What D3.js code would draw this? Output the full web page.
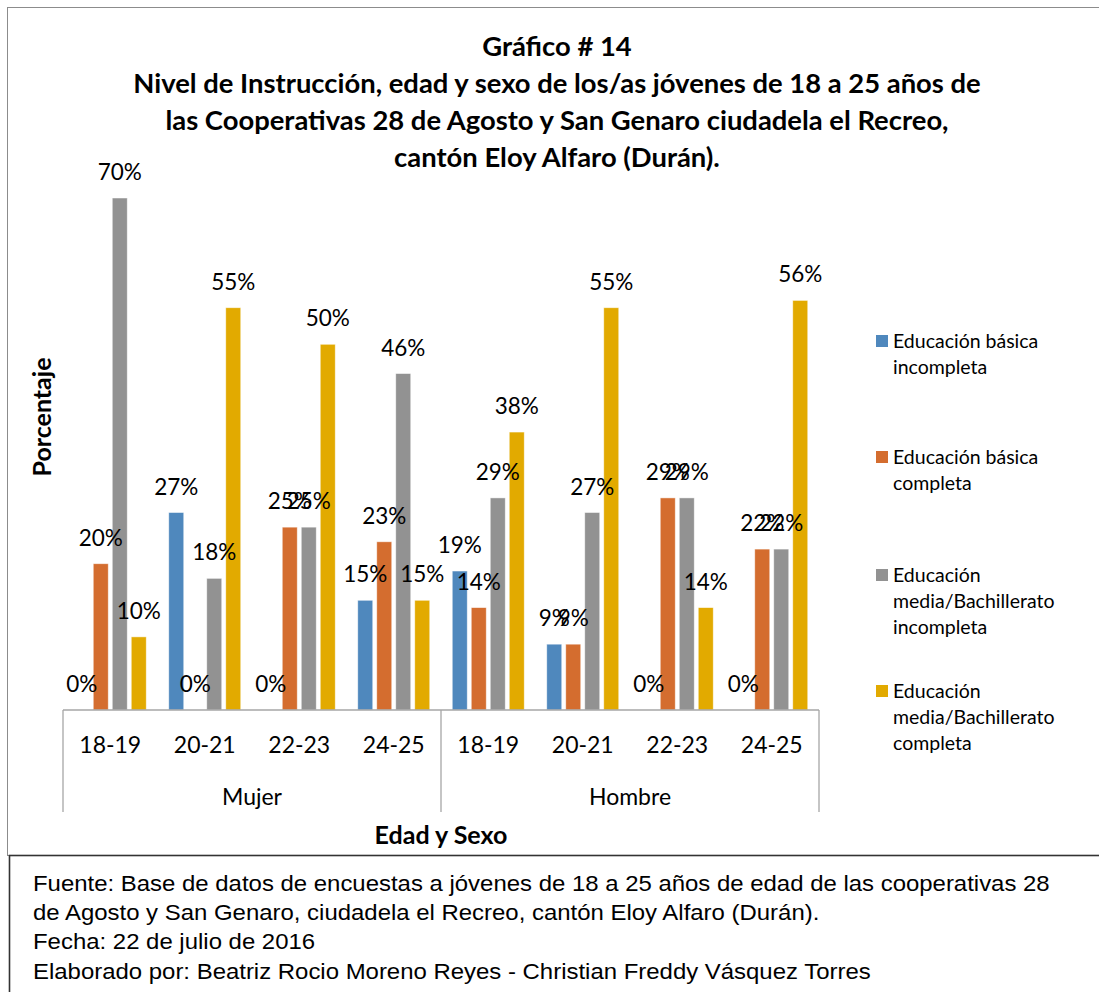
<!DOCTYPE html>
<html><head><meta charset="utf-8">
<script src="https://cdn.jsdelivr.net/npm/d3@7"></script>
<style>body{margin:0;background:#fff}svg{display:block}</style>
</head><body>
<svg id="c" width="1099" height="992"></svg>
<script>
const categories = ["18-19","20-21","22-23","24-25","18-19","20-21","22-23","24-25"];
const groups = ["Mujer","Hombre"];
const seriesNames = ["Educación básica incompleta","Educación básica completa","Educación media/Bachillerato incompleta","Educación media/Bachillerato completa"];
const legendLines = [["Educación básica","incompleta"],["Educación básica","completa"],["Educación","media/Bachillerato","incompleta"],["Educación","media/Bachillerato","completa"]];
const basicaIncompleta = [0,27,0,15,19,9,0,0];
const basicaCompleta   = [20,0,25,23,14,9,29,22];
const mediaIncompleta  = [70,18,25,46,29,27,29,22];
const mediaCompleta    = [10,55,50,15,38,55,14,56];
const seriesValues = [basicaIncompleta,basicaCompleta,mediaIncompleta,mediaCompleta];
const colors = ["#4F88BD","#D46D2F","#929292","#E2AA00"];
const titleLines = ["Gráfico # 14","Nivel de Instrucción, edad y sexo de los/as jóvenes de 18 a 25 años de","las Cooperativas 28 de Agosto y San Genaro ciudadela el Recreo,","cantón Eloy Alfaro (Durán)."];
const footLines = ["Fuente: Base de datos de encuestas a jóvenes de 18 a 25 años de edad de las cooperativas 28","de Agosto y San Genaro, ciudadela el Recreo, cantón Eloy Alfaro (Durán).","Fecha: 22 de julio de 2016","Elaborado por: Beatriz Rocio Moreno Reyes - Christian Freddy Vásquez Torres"];

const svg = d3.select("#c");
const FONT = "Lato, 'Open Sans', sans-serif";

// borders
svg.append("rect").attr("x",7.5).attr("y",7.5).attr("width",1100).attr("height",848)
  .attr("fill","none").attr("stroke","#8c8c8c").attr("stroke-width",1);
svg.append("rect").attr("x",9.5).attr("y",855.5).attr("width",1100).attr("height",150)
  .attr("fill","#fff").attr("stroke","#333").attr("stroke-width",1.6);

// title
const tg = svg.append("g").attr("font-family",FONT).attr("font-weight","bold").attr("fill","#000").attr("text-anchor","middle");
const tl = tg.selectAll("text").data(titleLines).join("text")
  .attr("x",557).attr("y",(d,i)=>56+i*37).attr("font-size",24).text(d=>d);
{ const w = tl.nodes()[1].getComputedTextLength(); const fs = 24*848/w; tl.attr("font-size",fs); }

// scales
const x0 = d3.scaleBand().domain(d3.range(categories.length)).range([63,819]).paddingInner(0).paddingOuter(0);
const x1 = d3.scaleBand().domain(d3.range(4)).range([0,x0.bandwidth()]).paddingInner(4/19).paddingOuter(0.592);
const y = d3.scaleLinear().domain([0,70]).range([710,198]);

// bars
const cg = svg.append("g");
seriesValues.forEach((vals,s)=>{
  cg.selectAll(null).data(vals).join("rect")
    .attr("x",(d,i)=>x0(i)+x1(s)).attr("width",x1.bandwidth())
    .attr("y",d=>y(d)).attr("height",d=>y(0)-y(d))
    .attr("fill",colors[s]).attr("stroke","#fff").attr("stroke-opacity",0.6).attr("stroke-width",0.8);
});

// axis lines
const ax = svg.append("g").attr("stroke","#a6a6a6").attr("stroke-width",1.3);
ax.append("line").attr("x1",63).attr("x2",819).attr("y1",710).attr("y2",710);
[0,4,8].forEach(k=>{
  const xx = k<8 ? x0(k) : x0.range()[1];
  ax.append("line").attr("x1",xx).attr("x2",xx).attr("y1",710).attr("y2",812);
});

// data labels
const lg = svg.append("g").attr("font-family",FONT).attr("font-size",22.5).attr("fill","#000").attr("text-anchor","middle");
seriesValues.forEach((vals,s)=>{
  lg.selectAll(null).data(vals).join("text")
    .attr("x",(d,i)=>x0(i)+x1(s)+x1.bandwidth()/2).attr("y",d=>y(d)-18)
    .text(d=>d+"%");
});

// category labels
const cl = svg.append("g").attr("font-family",FONT).attr("font-size",23).attr("fill","#000").attr("text-anchor","middle");
cl.selectAll(null).data(categories).join("text")
  .attr("x",(d,i)=>x0(i)+x0.bandwidth()/2).attr("y",753).text(d=>d);
cl.selectAll(null).data(groups).join("text")
  .attr("x",(d,i)=>x0(i*4)+x0.bandwidth()*2).attr("y",805).text(d=>d);

// axis titles
svg.append("text").attr("font-family",FONT).attr("font-weight","bold").attr("font-size",25)
  .attr("text-anchor","middle").attr("x",441).attr("y",844).text("Edad y Sexo");
svg.append("text").attr("font-family",FONT).attr("font-weight","bold").attr("font-size",25)
  .attr("text-anchor","middle").attr("transform","translate(51,417) rotate(-90)").text("Porcentaje");

// legend
const legY = [341,457,575,691];
const leg = svg.append("g").attr("font-family",FONT).attr("font-size",19.5).attr("fill","#000");
legendLines.forEach((lines,s)=>{
  leg.append("rect").attr("x",876).attr("y",legY[s]-6).attr("width",12).attr("height",12).attr("fill",colors[s]);
  lines.forEach((t,j)=>{
    leg.append("text").attr("x",893).attr("y",legY[s]+7+j*26).text(t);
  });
});

// footnote
const fg = svg.append("g").attr("font-family","'Liberation Sans', Arial, sans-serif").attr("font-size",22).attr("fill","#000");
const ft = fg.selectAll("text").data(footLines).join("text").attr("x",0).attr("y",(d,i)=>891+i*29.2).text(d=>d);
{ const w = ft.nodes()[0].getComputedTextLength(); const k = 1017/w; fg.attr("transform",`translate(33,0) scale(${k},1)`); }
</script>
</body></html>
